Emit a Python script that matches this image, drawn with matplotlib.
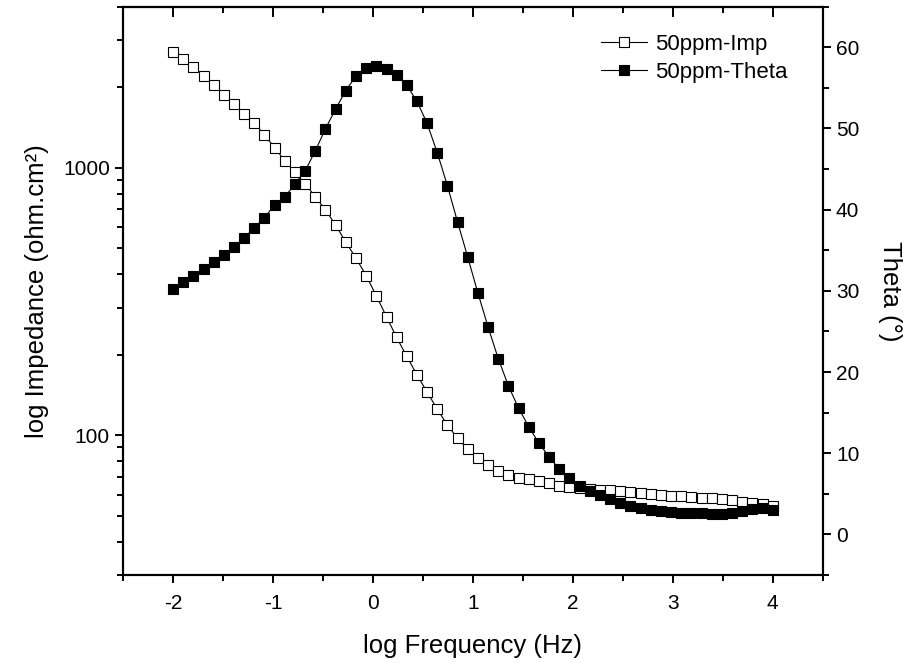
import numpy as np
import matplotlib
matplotlib.use("Agg")
import matplotlib.pyplot as plt
from matplotlib.ticker import MultipleLocator, LogLocator, FixedLocator, NullFormatter

plt.rcParams['font.family'] = ['Liberation Sans', 'DejaVu Sans']

# log frequency of each measured point (Hz, log10)
log_freq = [-2.000, -1.898, -1.797, -1.695, -1.593, -1.492, -1.390, -1.288, -1.186, -1.085,
            -0.983, -0.881, -0.780, -0.678, -0.576, -0.475, -0.373, -0.271, -0.169, -0.068,
            0.034, 0.136, 0.237, 0.339, 0.441, 0.542, 0.644, 0.746, 0.847, 0.949,
            1.051, 1.153, 1.254, 1.356, 1.458, 1.559, 1.661, 1.763, 1.864, 1.966,
            2.068, 2.169, 2.271, 2.373, 2.475, 2.576, 2.678, 2.780, 2.881, 2.983,
            3.085, 3.186, 3.288, 3.390, 3.492, 3.593, 3.695, 3.797, 3.898, 4.000]

# impedance modulus (ohm.cm2)
imp_50ppm = [2718, 2552, 2376, 2210, 2039, 1872, 1728, 1589, 1467, 1326,
             1189, 1060, 962, 870, 779, 695, 611, 526, 459, 395,
             332, 277, 232, 197, 168, 145, 125, 109, 97.3, 88.8,
             82.4, 77.4, 73.6, 71.0, 69.3, 68.4, 67.6, 66.3, 64.8, 63.9,
             63.3, 62.9, 62.6, 62.2, 61.7, 61.3, 60.8, 60.3, 59.9, 59.4,
             59.1, 58.7, 58.4, 58.1, 57.6, 57.1, 56.4, 55.9, 55.3, 54.3]

# phase angle (deg)
theta_50ppm = [30.19, 31.05, 31.86, 32.65, 33.51, 34.41, 35.44, 36.54, 37.78, 39.01,
               40.61, 41.59, 43.16, 44.78, 47.25, 49.97, 52.40, 54.67, 56.48, 57.41,
               57.72, 57.30, 56.63, 55.32, 53.33, 50.63, 47.01, 42.91, 38.48, 34.13,
               29.70, 25.51, 21.64, 18.28, 15.53, 13.27, 11.22, 9.57, 8.03, 6.97,
               5.96, 5.38, 4.85, 4.32, 3.91, 3.54, 3.25, 3.01, 2.88, 2.76,
               2.67, 2.64, 2.60, 2.55, 2.55, 2.64, 2.88, 3.09, 3.29, 3.01]

x_ticks = [-2, -1, 0, 1, 2, 3, 4]
theta_ticks = [0, 10, 20, 30, 40, 50, 60]

fig = plt.figure(figsize=(9.08, 6.63), dpi=100)
ax = fig.add_axes([0.1355, 0.1327, 0.7706, 0.8572])
ax2 = ax.twinx()

ms = 6.8
l1, = ax.plot(log_freq, imp_50ppm, '-', color='black', lw=0.8, marker='s', ms=ms,
              mfc='white', mec='black', mew=0.8, label='50ppm-Imp')
l2, = ax2.plot(log_freq, theta_50ppm, '-', color='black', lw=0.8, marker='s', ms=ms,
               mfc='black', mec='black', mew=0.8, label='50ppm-Theta')

ax.set_xlim(-2.5, 4.5)
ax.set_yscale('log')
ax.set_ylim(30, 4000)
ax2.set_ylim(-5, 65)

ax.set_xticks(x_ticks)
ax.set_xticklabels([str(t) for t in x_ticks])
ax.xaxis.set_minor_locator(MultipleLocator(0.5))
ax.yaxis.set_major_locator(FixedLocator([100, 1000]))
ax.yaxis.set_major_formatter(matplotlib.ticker.FixedFormatter(['100', '1000']))
ax.yaxis.set_minor_locator(LogLocator(base=10, subs=np.arange(2, 10), numticks=20))
ax.yaxis.set_minor_formatter(NullFormatter())
ax2.set_yticks(theta_ticks)
ax2.yaxis.set_minor_locator(MultipleLocator(5))

for a in (ax, ax2):
    for s in a.spines.values():
        s.set_linewidth(1.5)

ax.tick_params(axis='x', which='both', direction='out', labelsize=15, width=1.4, pad=8)
ax.tick_params(axis='x', which='major', length=6)
ax.tick_params(axis='x', which='minor', length=4)
ax.tick_params(axis='y', which='both', direction='out', labelsize=15, width=1.4)
ax.tick_params(axis='y', which='major', length=6)
ax.tick_params(axis='y', which='minor', length=4)
ax2.tick_params(axis='y', which='both', direction='out', labelsize=15, width=1.4)
ax2.tick_params(axis='y', which='major', length=6)
ax2.tick_params(axis='y', which='minor', length=4)

# top ticks point inward (Origin style mirror)
secx = ax.secondary_xaxis('top')
secx.set_xticks(x_ticks)
secx.xaxis.set_minor_locator(MultipleLocator(0.5))
secx.tick_params(axis='x', which='both', direction='in', labeltop=False, width=1.4)
secx.tick_params(axis='x', which='major', length=7)
secx.tick_params(axis='x', which='minor', length=4)
secx.spines['top'].set_linewidth(1.5)

ax.set_xlabel('log Frequency (Hz)', fontsize=18.5, labelpad=15)
ax.set_ylabel('log Impedance (ohm.cm²)', fontsize=18.5, labelpad=10)
ax2.set_ylabel('Theta (°)', fontsize=18.5, rotation=-90, labelpad=31)

ax.legend(handles=[l1, l2], loc='upper right', bbox_to_anchor=(0.969, 0.975),
          frameon=False, fontsize=16, handlelength=2.1, handletextpad=0.35,
          labelspacing=0.3, borderaxespad=0.2)

fig.savefig('out.png', dpi=100)
